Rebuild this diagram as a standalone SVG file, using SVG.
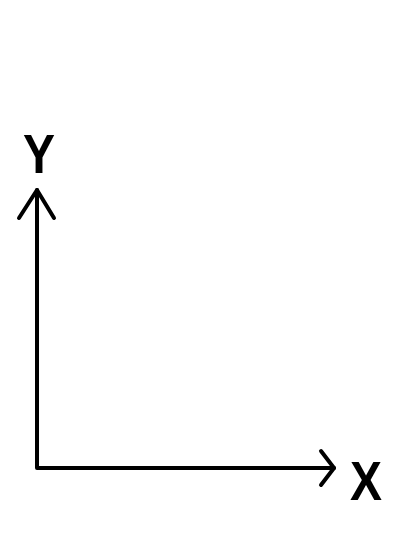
<svg xmlns="http://www.w3.org/2000/svg" width="400" height="533" viewBox="0 0 400 533">
<style>
.ax{fill:none;stroke:#000;stroke-width:4;stroke-linecap:round;stroke-linejoin:round}
.lb{font-family:"Liberation Sans",Arial,sans-serif;font-weight:bold;font-size:56px;fill:#000}
</style>
<rect width="400" height="533" fill="#fff"/>
<g id="connectors">
<path class="ax" d="M37,190 V468 H334"/>
<path class="ax" d="M19,218 L37,190 L54,218"/>
<path class="ax" d="M321,451 L334,468 L321,485"/>
</g>
<g id="y-label"><text class="lb" x="23" y="173" textLength="32" lengthAdjust="spacingAndGlyphs">Y</text></g>
<g id="x-label"><text class="lb" x="350" y="500" textLength="32" lengthAdjust="spacingAndGlyphs">X</text></g>
</svg>
